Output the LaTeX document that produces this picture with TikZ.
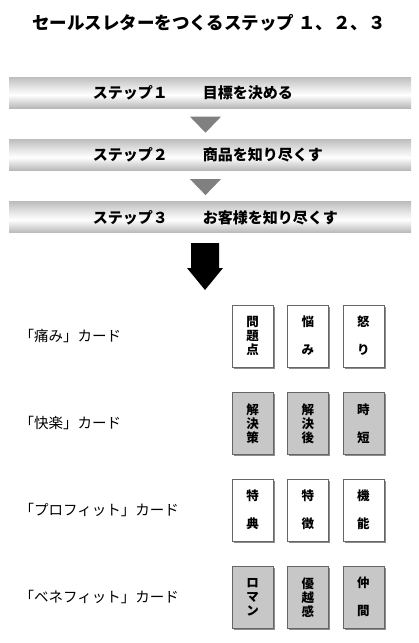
\documentclass[tikz,border=0pt]{standalone}
\usepackage{fontspec}
\setmainfont{Noto Sans CJK JP}
\usepackage{tikz,xcolor}
\usetikzlibrary{positioning, shadows, calc}

\pgfdeclareverticalshading{metalbar}{100bp}{color(0bp)=(black!50); color(22bp)=(black!32); color(46bp)=(white); color(56bp)=(black!8); color(80bp)=(black!30); color(100bp)=(black!40)}

\tikzset{
    bar/.style={shading=metalbar, minimum height=31pt, text width=402pt, inner xsep=0pt, align=left,
                font=\fontsize{15}{18}\selectfont\bfseries},
    pointer/.style={fill=black!50},
    card/.style={draw=black!60, fill=white, minimum width=41pt, minimum height=62pt, inner sep=0pt, align=center,
                 font=\fontsize{12.5}{14}\selectfont\bfseries,
                 drop shadow={shadow xshift=2pt, shadow yshift=-2pt, fill=black!45, opacity=1}},
    darkcard/.style={card, fill=black!22},
    cardname/.style={anchor=west, font=\fontsize{14.5}{16}\selectfont},
}

\begin{document}
\begin{tikzpicture}[x=1pt, y=1pt, node distance=31pt]
    \useasboundingbox (0,0) rectangle (419,-643);

    \node[font=\fontsize{17.5}{20}\selectfont\bfseries] (title) at (209,-23) {セールスレターをつくるステップ １、２、３};

    % steps
    \node[bar] (step 1) at (210,-92.5) {\hspace*{84pt}ステップ１\hspace{35pt}目標を決める};
    \node[bar, below=of step 1]        (step 2) {\hspace*{84pt}ステップ２\hspace{35pt}商品を知り尽くす};
    \node[bar, below=of step 2]        (step 3) {\hspace*{84pt}ステップ３\hspace{35pt}お客様を知り尽くす};

    \fill[pointer] ($(step 1.south)+(-20,-8.5)$) -- ++(31,0) -- ++(-15.5,-16) -- cycle;
    \fill[pointer] ($(step 2.south)+(-20,-8.5)$) -- ++(31,0) -- ++(-15.5,-16) -- cycle;

    % big arrow
    \coordinate (down) at ($(step 3.south)+(-5,-10)$);
    \fill[black] ($(down)+(-14,0)$) -- ++(28,0) -- ++(0,-25) -- ++(4,0) -- ++(-18,-22) -- ++(-18,22) -- ++(4,0) -- cycle;

    % cards
    \node[card] (pain 1) at (252.5,-336) {問\\題\\点};
    \node[card, right=14pt of pain 1] (pain 2) {悩\\[14pt]み};
    \node[card, right=14pt of pain 2] (pain 3) {怒\\[14pt]り};

    \node[darkcard, below=25pt of pain 1] (joy 1) {解\\決\\策};
    \node[darkcard, right=14pt of joy 1]  (joy 2) {解\\決\\後};
    \node[darkcard, right=14pt of joy 2]  (joy 3) {時\\[14pt]短};

    \node[card, below=24pt of joy 1]    (profit 1) {特\\[14pt]典};
    \node[card, right=14pt of profit 1] (profit 2) {特\\[14pt]徴};
    \node[card, right=14pt of profit 2] (profit 3) {機\\[14pt]能};

    \node[darkcard, below=25pt of profit 1] (benefit 1) {ロ\\マ\\ン};
    \node[darkcard, right=14pt of benefit 1] (benefit 2) {優\\越\\感};
    \node[darkcard, right=14pt of benefit 2] (benefit 3) {仲\\[14pt]間};

    \node[cardname] (name pain)    at (pain 1 -| 16,0)    {「痛み」カード};
    \node[cardname] (name joy)     at (joy 1 -| 16,0)     {「快楽」カード};
    \node[cardname] (name profit)  at (profit 1 -| 16,0)  {「プロフィット」カード};
    \node[cardname] (name benefit) at (benefit 1 -| 16,0) {「ベネフィット」カード};
\end{tikzpicture}
\end{document}
